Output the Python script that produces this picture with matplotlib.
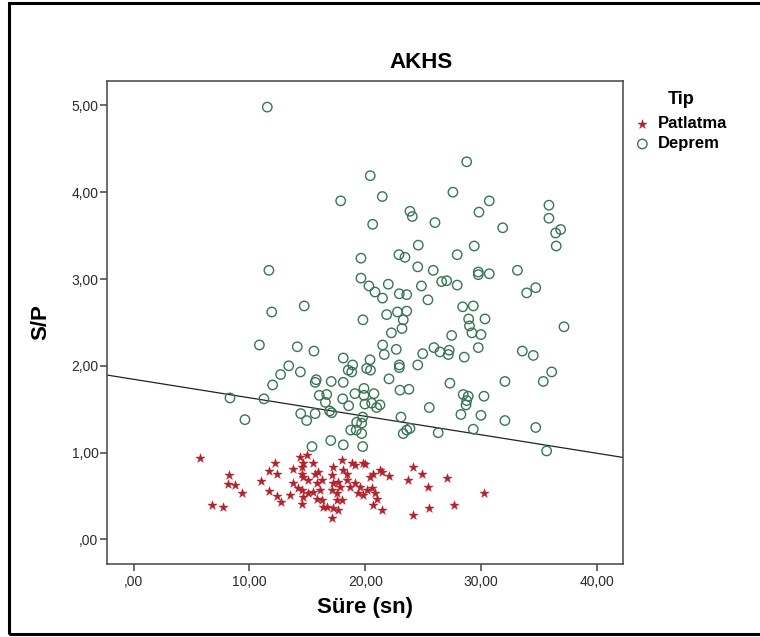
import numpy as np
import matplotlib
matplotlib.use("Agg")
import matplotlib.pyplot as plt
from matplotlib.patches import Rectangle
from matplotlib.ticker import FuncFormatter

plt.rcParams['font.family'] = ['Liberation Sans', 'DejaVu Sans']

# Deprem (earthquake) points: duration (s) and S/P ratio
deprem_sure = [11.54, 28.76, 20.43, 17.88, 21.47, 27.57, 30.71, 29.82, 23.86, 24.06,
               26.02, 20.64, 31.87, 35.86, 35.86, 36.44, 36.87, 36.49, 24.58, 29.41,
               22.91, 23.43, 27.94, 19.63, 24.53, 25.87, 29.76, 29.76, 30.71, 33.14,
               11.68, 19.63, 20.32, 20.84, 21.49, 21.99, 22.94, 23.58, 24.85, 26.60,
               27.03, 27.94, 33.94, 34.72, 25.41, 28.41, 29.33, 14.73, 11.92, 19.80,
               21.85, 22.78, 23.58, 23.28, 28.93, 30.34, 37.16, 29.00, 22.26, 23.17,
               27.46, 29.21, 29.99, 21.50, 22.68, 21.64, 25.93, 26.45, 27.25, 27.17,
               24.96, 28.55, 29.76, 33.56, 34.51, 36.10, 35.37, 20.41, 20.12, 20.45,
               22.94, 22.94, 24.53, 22.05, 27.31, 32.06, 19.89, 20.75, 19.89, 23.00,
               23.77, 28.46, 28.89, 28.76, 28.70, 30.25, 19.97, 20.55, 20.98, 21.27,
               25.53, 28.26, 29.99, 32.06, 34.72, 19.78, 19.69, 23.08, 23.28, 23.58,
               23.86, 26.30, 29.33, 35.66, 19.69, 19.78, 10.86, 14.13, 15.57, 18.10,
               18.91, 18.53, 18.83, 13.39, 12.69, 14.40, 12.00, 15.77, 15.68, 17.06,
               18.10, 19.11, 16.03, 16.67, 18.05, 16.56, 18.57, 8.32, 11.25, 14.43,
               14.94, 15.67, 16.92, 17.10, 19.26, 9.61, 18.75, 19.22, 17.02, 18.10,
               15.40]
deprem_sp = [4.98, 4.35, 4.19, 3.90, 3.95, 4.00, 3.90, 3.77, 3.78, 3.72,
             3.65, 3.63, 3.59, 3.85, 3.70, 3.53, 3.57, 3.38, 3.39, 3.38,
             3.28, 3.25, 3.28, 3.24, 3.14, 3.10, 3.08, 3.05, 3.06, 3.10,
             3.10, 3.01, 2.92, 2.85, 2.78, 2.94, 2.83, 2.82, 2.92, 2.97,
             2.98, 2.93, 2.84, 2.90, 2.76, 2.68, 2.69, 2.69, 2.62, 2.53,
             2.59, 2.62, 2.63, 2.53, 2.54, 2.54, 2.45, 2.46, 2.38, 2.43,
             2.35, 2.38, 2.36, 2.24, 2.19, 2.13, 2.21, 2.16, 2.18, 2.13,
             2.14, 2.10, 2.21, 2.17, 2.12, 1.93, 1.82, 2.07, 1.97, 1.95,
             2.01, 1.98, 2.01, 1.85, 1.80, 1.82, 1.74, 1.68, 1.66, 1.72,
             1.73, 1.67, 1.65, 1.60, 1.55, 1.65, 1.56, 1.57, 1.52, 1.55,
             1.52, 1.44, 1.43, 1.37, 1.29, 1.41, 1.34, 1.41, 1.22, 1.26,
             1.28, 1.23, 1.27, 1.02, 1.22, 1.07, 2.24, 2.22, 2.17, 2.09,
             2.01, 1.95, 1.93, 2.00, 1.90, 1.93, 1.78, 1.84, 1.81, 1.82,
             1.81, 1.68, 1.66, 1.67, 1.62, 1.58, 1.54, 1.63, 1.62, 1.45,
             1.37, 1.45, 1.48, 1.46, 1.35, 1.38, 1.26, 1.26, 1.14, 1.09,
             1.07]

# Patlatma (explosion) points
patlatma_sure = [5.75, 8.26, 8.17, 8.79, 9.38, 6.74, 7.74, 12.20, 11.71, 12.40,
                 10.98, 11.68, 12.35, 12.75, 13.50, 14.36, 14.94, 13.74, 14.51, 15.51,
                 13.78, 14.21, 14.65, 15.08, 14.51, 15.03, 14.65, 14.51, 15.66, 15.94,
                 16.23, 15.80, 15.51, 15.80, 16.23, 16.37, 16.09, 14.51, 14.65, 17.24,
                 17.10, 17.96, 18.10, 18.39, 18.83, 19.11, 19.83, 18.39, 17.24, 17.67,
                 17.10, 17.53, 17.82, 18.68, 19.11, 19.54, 19.40, 17.53, 17.96, 17.24,
                 17.67, 17.10, 16.67, 19.97, 20.41, 20.69, 21.27, 21.42, 22.07, 20.12,
                 20.55, 19.83, 20.84, 20.98, 20.69, 21.42, 24.15, 24.94, 23.69, 27.08,
                 25.44, 30.25, 25.53, 27.69, 24.15]
patlatma_sp = [0.94, 0.74, 0.64, 0.63, 0.53, 0.40, 0.38, 0.88, 0.79, 0.75,
               0.67, 0.56, 0.50, 0.43, 0.51, 0.95, 0.97, 0.81, 0.84, 0.88,
               0.65, 0.59, 0.72, 0.68, 0.41, 0.53, 0.88, 0.76, 0.76, 0.78,
               0.68, 0.65, 0.55, 0.47, 0.45, 0.38, 0.57, 0.57, 0.49, 0.84,
               0.74, 0.91, 0.80, 0.76, 0.88, 0.86, 0.88, 0.68, 0.65, 0.66,
               0.57, 0.53, 0.61, 0.61, 0.65, 0.61, 0.53, 0.45, 0.46, 0.36,
               0.34, 0.25, 0.38, 0.87, 0.72, 0.76, 0.80, 0.78, 0.73, 0.57,
               0.59, 0.51, 0.53, 0.47, 0.40, 0.34, 0.83, 0.76, 0.68, 0.71,
               0.60, 0.54, 0.36, 0.40, 0.28]

# total fit line shown in the chart
fit_intercept = 1.845
fit_slope = -0.0213

x_ticks = [0, 10, 20, 30, 40]
y_ticks = [0, 1, 2, 3, 4, 5]

green = '#3a7457'
red = '#b3232d'

fig = plt.figure(figsize=(7.6, 6.37), dpi=100)
ax = fig.add_axes([0.1414, 0.1149, 0.6787, 0.7579])

ax.scatter(patlatma_sure, patlatma_sp, marker='*', s=48, color=red,
           linewidths=0.3, label='Patlatma', zorder=3)
ax.scatter(deprem_sure, deprem_sp, marker='o', s=46, facecolors='none',
           edgecolors=green, linewidths=1.0, label='Deprem', zorder=3)

ax.set_xlim(-2.26, 42.28)
ax.set_ylim(-0.28, 5.28)
xs = np.array(ax.get_xlim())
ax.plot(xs, fit_intercept + fit_slope * xs, color='#222222', linewidth=0.9, zorder=2)

def comma_fmt(v, pos):
    s = f"{v:.2f}".replace('.', ',')
    if s.startswith('0,'):
        s = s[1:]
    return s

ax.set_xticks(x_ticks)
ax.set_yticks(y_ticks)
ax.xaxis.set_major_formatter(FuncFormatter(comma_fmt))
ax.yaxis.set_major_formatter(FuncFormatter(comma_fmt))
ax.tick_params(axis='both', direction='out', length=5, width=1.1,
               color='#444444', labelsize=10, labelcolor='#2a2a2a')
ax.tick_params(axis='y', pad=1.5)
ax.tick_params(axis='x', pad=3)
for sp in ax.spines.values():
    sp.set_color('#444444')
    sp.set_linewidth(1.1)

fig.text(421 / 760, 1 - 63 / 637, 'AKHS', ha='center', va='center',
         fontsize=16, fontweight='bold')
fig.text(365 / 760, 1 - 607 / 637, 'Süre (sn)', ha='center', va='center',
         fontsize=16, fontweight='bold')
fig.text(41 / 760, 1 - 322 / 637, 'S/P', ha='center', va='center',
         rotation=90, fontsize=16, fontweight='bold')

# legend: title placed separately, entries below
fig.text(681 / 760, 1 - 99 / 637, 'Tip', ha='center', va='center',
         fontsize=13, fontweight='bold')
leg = fig.legend(loc='upper left', bbox_to_anchor=(634 / 760, 1 - 116 / 637),
                 frameon=False, handlelength=1.0, handletextpad=0.45,
                 borderaxespad=0, borderpad=0, labelspacing=0.32,
                 prop={'weight': 'bold', 'size': 12})

# outer frame of the exported chart (right side runs off the image)
fig.patches.append(Rectangle((8.5 / 760, 3 / 637), 1.1, 1 - 6 / 637,
                             transform=fig.transFigure, fill=False,
                             edgecolor='black', linewidth=2.2, clip_on=False))

fig.savefig('out.png', dpi=100)
